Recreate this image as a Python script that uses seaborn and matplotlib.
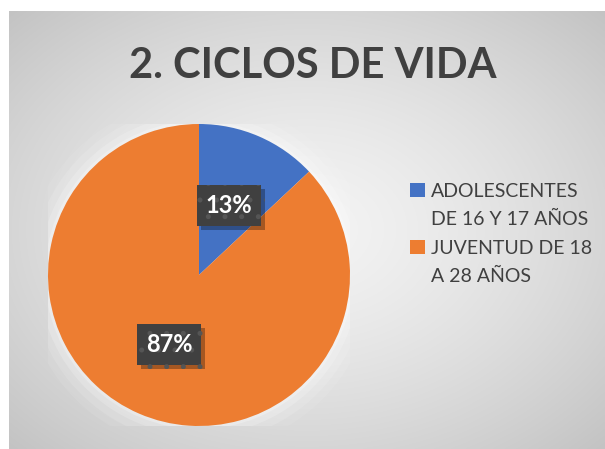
import numpy as np
import matplotlib
matplotlib.use("Agg")
import matplotlib.pyplot as plt
import matplotlib.patheffects as pe
from matplotlib.patches import Patch
import seaborn as sns

# --- Data ---
categories = ["ADOLESCENTES\nDE 16 Y 17 AÑOS", "JUVENTUD DE 18\nA 28 AÑOS"]
shares = [13, 87]
slice_colors = ["#4472C4", "#ED7D31"]
title = "2. CICLOS DE VIDA"

# --- Style ---
sns.set_theme(style="white")
plt.rcParams["font.family"] = ["Lato", "DejaVu Sans"]
plt.rcParams["hatch.linewidth"] = 1.2

fig = plt.figure(figsize=(6.05, 4.49), dpi=100)
fig.patch.set_facecolor("white")

# chart area background (radial gray gradient, light in the middle)
bg = fig.add_axes([9 / 605, 0, 1 - 9 / 605, 1 - 11 / 449])
yy, xx = np.mgrid[-1:1:300j, -1:1:400j]
rr = np.sqrt(xx ** 2 + yy ** 2) / np.sqrt(2)
shade = 0.955 - 0.19 * rr ** 1.4
bg.imshow(np.dstack([shade] * 3), aspect="auto", extent=[0, 1, 0, 1],
          interpolation="bicubic")
bg.set_axis_off()

# --- Pie ---
ax = fig.add_axes([48 / 605, 23 / 449, 302 / 605, 302 / 449])
for r, a in [(1.16, 0.08), (1.11, 0.12), (1.06, 0.18), (1.02, 0.25)]:
    ax.add_patch(plt.Circle((0, 0), r, color="white", alpha=a, lw=0))
wedges, _, autotexts = ax.pie(
    shares,
    colors=slice_colors,
    startangle=90,
    counterclock=False,
    autopct="%d%%",
    pctdistance=0.5,
    wedgeprops=dict(linewidth=0),
    textprops=dict(color="white", fontsize=17, fontweight="bold"),
)
ax.set_xlim(-1, 1)
ax.set_ylim(-1, 1)
ax.set_aspect("equal")

for t in autotexts:
    t.set_bbox(dict(boxstyle="square,pad=0.38", facecolor="#404040",
                    edgecolor="#555555", linewidth=0, hatch="."))
    t.get_bbox_patch().set_path_effects(
        [pe.SimplePatchShadow(offset=(3, -3), shadow_rgbFace="black", alpha=0.3), pe.Normal()]
    )

# --- Title ---
fig.text(0.517, 0.852, title, ha="center", va="center",
         fontsize=30, fontweight="bold", color="#404040")

# --- Legend (one row per text line, marker on first line) ---
handles, labels = [], []
for name, c in zip(categories, slice_colors):
    lines = name.split("\n")
    handles.append(Patch(facecolor=c, edgecolor="none"))
    labels.append(lines[0])
    for extra in lines[1:]:
        handles.append(Patch(facecolor="none", edgecolor="none"))
        labels.append(extra)

fig.legend(handles, labels, loc="upper left", bbox_to_anchor=(0.662, 0.614),
           frameon=False, fontsize=14, labelcolor="#404040",
           handlelength=0.75, handleheight=0.75, handletextpad=0.3,
           labelspacing=0.58, borderpad=0)

fig.savefig("out.png", dpi=100)
